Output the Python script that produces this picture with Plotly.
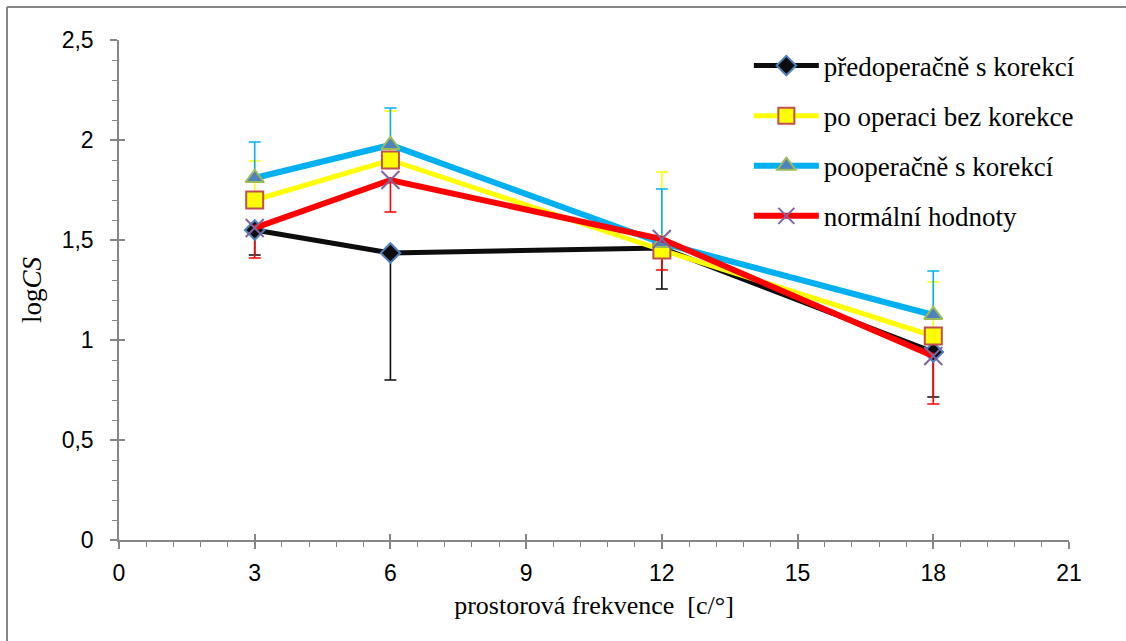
import plotly.graph_objects as go

# spatial frequency [c/deg]
freq = [3, 6, 12, 18]

series_names = [
    "předoperačně s korekcí",
    "po operaci bez korekce",
    "pooperačně s korekcí",
    "normální hodnoty",
]

pre_corr = [1.55, 1.435, 1.46, 0.94]
pre_corr_minus = [0.125, 0.635, 0.205, 0.225]
pre_corr_plus = [0, 0, 0, 0]

post_nocorr = [1.70, 1.90, 1.45, 1.02]
post_nocorr_plus = [0.195, 0.245, 0.39, 0.27]
post_nocorr_minus = [0, 0, 0, 0]

post_corr = [1.81, 1.975, 1.485, 1.125]
post_corr_plus = [0.18, 0.185, 0.27, 0.22]
post_corr_minus = [0, 0, 0, 0]

normal = [1.56, 1.80, 1.505, 0.92]
normal_minus = [0.15, 0.16, 0.155, 0.24]
normal_plus = [0, 0, 0, 0]

x_ticks = [0, 3, 6, 9, 12, 15, 18, 21]
y_ticks = [0, 0.5, 1, 1.5, 2, 2.5]

AXIS = "#868686"
SERIF = "Liberation Serif"
SANS = "Liberation Sans"

styles = [
    dict(y=pre_corr, plus=pre_corr_plus, minus=pre_corr_minus, color="#0D0D0D",
         width=5, marker=dict(symbol="diamond", size=15, color="#0D0D0D",
                              line=dict(color="#4F81BD", width=2))),
    dict(y=post_nocorr, plus=post_nocorr_plus, minus=post_nocorr_minus, color="#FFFF00",
         width=5, marker=dict(symbol="square", size=17, color="#FFFF00",
                              line=dict(color="#C0504D", width=2))),
    dict(y=post_corr, plus=post_corr_plus, minus=post_corr_minus, color="#00B0F0",
         width=6, marker=dict(symbol="triangle-up", size=16, color="#4F81BD",
                              line=dict(color="#9BBB59", width=2))),
    dict(y=normal, plus=normal_plus, minus=normal_minus, color="#FF0000",
         width=6, marker=dict(symbol="x-thin", size=18, color="#8064A2",
                              line=dict(color="#8064A2", width=2))),
]

fig = go.Figure()

# error bars first (beneath every line and marker)
for s in styles:
    fig.add_trace(go.Scatter(
        x=freq, y=s["y"], mode="markers",
        marker=dict(size=1, opacity=0),
        error_y=dict(type="data", symmetric=False, array=s["plus"],
                     arrayminus=s["minus"], color=s["color"],
                     thickness=1.6, width=6),
        showlegend=False, hoverinfo="skip",
    ))

for i, (name, s) in enumerate(zip(series_names, styles)):
    fig.add_trace(go.Scatter(
        x=freq, y=s["y"], mode="lines+markers", name=name,
        legendgroup=f"g{i}",
        line=dict(color=s["color"], width=s["width"]),
        marker=s["marker"],
    ))

# overlay axes to make major ticks cross the axis lines
fig.add_trace(go.Scatter(x=[None], y=[None], xaxis="x2", yaxis="y2",
                         showlegend=False, hoverinfo="skip"))

fig.update_layout(
    width=1126, height=641,
    margin=dict(l=119, r=57, t=40, b=101),
    paper_bgcolor="white", plot_bgcolor="white",
    separators=", ",
    font=dict(family=SERIF, size=26, color="#000000"),
    xaxis=dict(
        range=[0, 21], tickvals=x_ticks, showgrid=False, zeroline=False,
        showline=True, linecolor=AXIS, linewidth=1.5,
        ticks="outside", ticklen=7, tickwidth=1.5, tickcolor=AXIS,
        minor=dict(dtick=0.6, ticks="outside", ticklen=5, tickwidth=1, tickcolor=AXIS),
        tickfont=dict(family=SANS, size=23, color="#000000"),
        ticklabelstandoff=5,
        title=dict(text="prostorová frekvence  [c/°]",
                   font=dict(family=SERIF, size=26), standoff=10),
    ),
    yaxis=dict(
        range=[0, 2.5], tickvals=y_ticks, showgrid=False, zeroline=False,
        showline=True, linecolor=AXIS, linewidth=1.5,
        ticks="outside", ticklen=7, tickwidth=1.5, tickcolor=AXIS,
        minor=dict(dtick=0.1, ticks="outside", ticklen=5, tickwidth=1, tickcolor=AXIS),
        tickfont=dict(family=SANS, size=23, color="#000000"),
        ticklabelstandoff=12,
        title=dict(text="log<i>CS</i>", font=dict(family=SERIF, size=27), standoff=12),
    ),
    xaxis2=dict(range=[0, 21], tickvals=x_ticks, overlaying="x", showticklabels=False,
                showgrid=False, zeroline=False, showline=False,
                ticks="inside", ticklen=6, tickwidth=1.5, tickcolor=AXIS),
    yaxis2=dict(range=[0, 2.5], tickvals=y_ticks, overlaying="y", showticklabels=False,
                showgrid=False, zeroline=False, showline=False,
                ticks="inside", ticklen=6, tickwidth=1.5, tickcolor=AXIS),
    legend=dict(
        x=0.663, y=0.997, xanchor="left", yanchor="top",
        font=dict(family=SERIF, size=27, color="#000000"),
        bgcolor="rgba(0,0,0,0)", traceorder="grouped", tracegroupgap=12,
        itemwidth=65,
    ),
    shapes=[
        dict(type="line", xref="paper", yref="paper",
             x0=(7 - 119) / 950, x1=(1140 - 119) / 950,
             y0=(540 - 7) / 500, y1=(540 - 7) / 500,
             line=dict(color="#868686", width=2)),
        dict(type="line", xref="paper", yref="paper",
             x0=(7 - 119) / 950, x1=(7 - 119) / 950,
             y0=(540 - 7) / 500, y1=(540 - 660) / 500,
             line=dict(color="#868686", width=2)),
    ],
)

fig.write_html(
    "out.html",
    config={"displayModeBar": False},
    post_script="document.body.style.margin='0px';",
)
